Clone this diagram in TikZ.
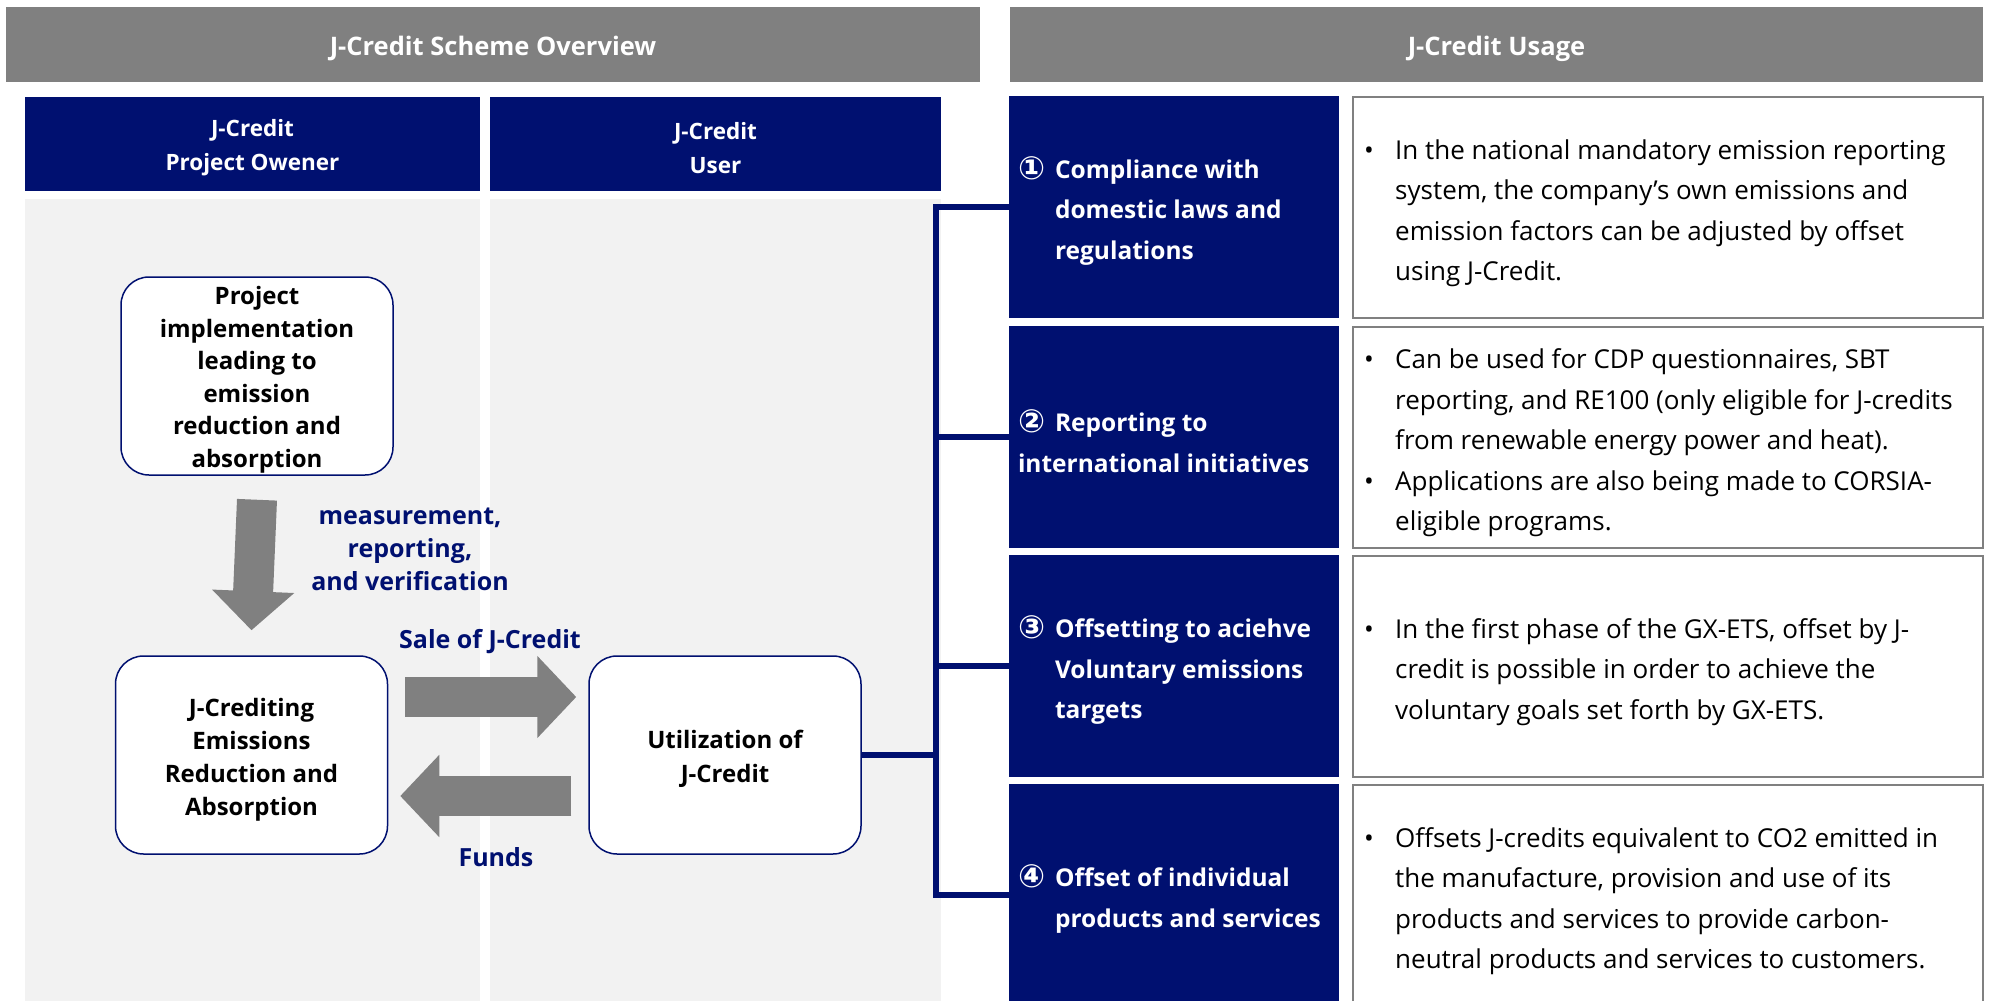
\documentclass[tikz,border=0pt]{standalone}
\usepackage{fontspec}
\setmainfont{Open Sans}
\newfontfamily\circfont{DejaVu Sans}
\usetikzlibrary{arrows.meta,calc}
\definecolor{navy}{RGB}{0,16,112}
\definecolor{hdrgray}{RGB}{128,128,128}
\definecolor{colgray}{RGB}{242,242,242}
\newcommand{\bul}{\makebox[31pt][l]{•}}
\newcommand{\ind}{\hspace*{31pt}}
\newcommand{\cnum}[1]{\makebox[37pt][l]{\raisebox{-1pt}{\circfont\fontsize{32}{32}\selectfont #1}}}
\newcommand{\cind}{\hspace*{37pt}}
\begin{document}
\begin{tikzpicture}[x=1pt,y=-1pt,
  hdr/.style={fill=hdrgray, inner sep=0pt, minimum height=75pt},
  hdrtxt/.style={text=white, font=\fontsize{25.5}{30}\selectfont\bfseries, inner sep=0pt},
  colhdr/.style={fill=navy, inner sep=0pt, minimum height=94pt},
  colhdrtxt/.style={text=white, font=\fontsize{22.5}{34}\selectfont\bfseries, align=center, inner sep=0pt},
  rbox/.style={draw=navy, line width=1.5pt, fill=white, rounded corners=28pt, inner sep=0pt, minimum width=272pt, minimum height=198pt},
  rboxtxt/.style={align=center, inner sep=0pt, font=\fontsize{24}{32.5}\selectfont\bfseries},
  lbl/.style={text=navy, align=center, font=\fontsize{25}{33}\selectfont\bfseries, inner sep=0pt},
  bigarrow/.style={draw=hdrgray, line width=40pt, -{Triangle[width=80pt,length=39pt]}},
  bluebox/.style={fill=navy, inner sep=0pt, minimum width=330pt, minimum height=222pt},
  bluetxt/.style={text=white, align=left, inner sep=0pt, anchor=west, font=\fontsize{24.5}{40.5}\selectfont\bfseries},
  whitebox/.style={draw=hdrgray, line width=2pt, fill=white, inner sep=0pt, minimum width=630pt, minimum height=221pt},
  whitetxt/.style={align=left, inner sep=0pt, anchor=west, font=\fontsize{26}{40.5}\selectfont},
  bus/.style={draw=navy, line width=6pt}
]
\useasboundingbox (0,0) rectangle (1989,1001);
\fill[white] (0,0) rectangle (1989,1001);

% headers
\node[hdr, minimum width=974pt] (h1) at (493,44.5) {};
\node[hdrtxt] (h1t) at ([yshift=-4pt]h1.center) {J-Credit Scheme Overview};
\node[hdr, minimum width=973pt] (h2) at (1496.5,44.5) {};
\node[hdrtxt] (h2t) at ([yshift=-4pt]h2.center) {J-Credit Usage};

% left columns
\fill[colgray] (25,199) rectangle (480,1010);
\fill[colgray] (490,199) rectangle (941,1010);
\node[colhdr, minimum width=455pt] (c1) at (252.5,144) {};
\node[colhdrtxt] (c1t) at ([yshift=-4pt]c1.center) {J-Credit\\Project Owener};
\node[colhdr, minimum width=451pt] (c2) at (715.5,144) {};
\node[colhdrtxt] (c2t) at ([yshift=-4pt]c2.center) {J-Credit\\User};

% boxes
\node[rbox] (proj) at (257,376) {};
\node[rboxtxt] (projt) at ([yshift=-4pt]proj.center) {Project\\implementation\\leading to\\emission\\reduction and\\absorption};
\node[rbox] (jc) at (251.5,755) {};
\node[rboxtxt, font=\fontsize{24}{33}\selectfont\bfseries] (jct) at ([yshift=-5pt]jc.center) {J-Crediting\\Emissions\\Reduction and\\Absorption};
\node[rbox] (util) at (725,755) {};
\node[rboxtxt, font=\fontsize{24}{34}\selectfont\bfseries] (utilt) at ([yshift=-4pt]util.center) {Utilization of\\J-Credit};

% big arrows
\draw[bigarrow] ([yshift=-24pt]proj.south) -- ([yshift=25pt]jc.north);
\draw[bigarrow] ([xshift=17pt,yshift=58pt]jc.east) -- ([xshift=-12pt,yshift=58pt]util.west);
\draw[bigarrow] ([xshift=-17pt,yshift=-41pt]util.west) -- ([xshift=12pt,yshift=-41pt]jc.east);

% labels
\node[lbl] (mrv) at (410,549) {measurement,\\reporting,\\and verification};
\node[lbl] (sale) at (490,642) {Sale of J-Credit};
\node[lbl] (funds) at (496,857) {Funds};

% right side rows
\node[bluebox] (b1) at (1174,207) {};
\node[bluebox] (b2) at (1174,437) {};
\node[bluebox] (b3) at (1174,666) {};
\node[bluebox] (b4) at (1174,895) {};
\node[bluetxt] (b1t) at ([xshift=9pt,yshift=-4pt]b1.west) {\cnum{①}Compliance with\\\cind domestic laws and\\\cind regulations};
\node[bluetxt] (b2t) at ([xshift=9pt,yshift=-4pt]b2.west) {\cnum{②}Reporting to\\international initiatives};
\node[bluetxt] (b3t) at ([xshift=9pt,yshift=-4pt]b3.west) {\cnum{③}Offsetting to aciehve\\\cind Voluntary emissions\\\cind targets};
\node[bluetxt] (b4t) at ([xshift=9pt,yshift=-4pt]b4.west) {\cnum{④}Offset of individual\\\cind products and services};

\node[whitebox] (w1) at (1668,207) {};
\node[whitebox] (w2) at (1668,437) {};
\node[whitebox] (w3) at (1668,666) {};
\node[whitebox] (w4) at (1668,895) {};
\node[whitetxt] (w1t) at ([xshift=12pt,yshift=-6pt]w1.west) {\bul In the national mandatory emission reporting\\\ind system, the company's own emissions and\\\ind emission factors can be adjusted by offset\\\ind using J-Credit.};
\node[whitetxt] (w2t) at ([xshift=12pt,yshift=-6pt]w2.west) {\bul Can be used for CDP questionnaires, SBT\\\ind reporting, and RE100 (only eligible for J-credits\\\ind from renewable energy power and heat).\\\bul Applications are also being made to CORSIA-\\\ind eligible programs.};
\node[whitetxt] (w3t) at ([xshift=12pt,yshift=-6pt]w3.west) {\bul In the first phase of the GX-ETS, offset by J-\\\ind credit is possible in order to achieve the\\\ind voluntary goals set forth by GX-ETS.};
\node[whitetxt] (w4t) at ([xshift=12pt,yshift=-6pt]w4.west) {\bul Offsets J-credits equivalent to CO2 emitted in\\\ind the manufacture, provision and use of its\\\ind products and services to provide carbon-\\\ind neutral products and services to customers.};

% bus connectors
\coordinate (bx) at (936,0);
\draw[bus] (b1.west) -- (b1.west -| bx) -- (b4.west -| bx) -- (b4.west);
\draw[bus] (b2.west) -- (b2.west -| bx);
\draw[bus] (b3.west) -- (b3.west -| bx);
\draw[bus] (util.east) -- (util.east -| bx);
\end{tikzpicture}
\end{document}
